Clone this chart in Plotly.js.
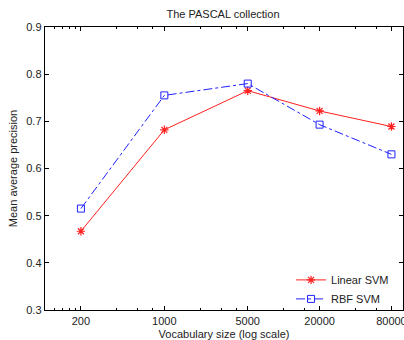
<!DOCTYPE html>
<html>
<head>
<meta charset="utf-8">
<script src="https://cdn.plot.ly/plotly-3.0.1.min.js"></script>
<style>html,body{margin:0;padding:0;background:#fff;}#chart{width:404px;height:340px;}</style>
</head>
<body>
<div id="chart"></div>
<script>
var vocabSizes = [200, 1000, 5000, 20000, 80000];
var linearSVM = [0.467, 0.682, 0.765, 0.722, 0.689];
var rbfSVM = [0.515, 0.755, 0.780, 0.693, 0.630];
var xTickVals = [200, 1000, 5000, 20000, 80000];
var xTickText = ['200', '1000', '5000', '20000', '80000'];
var xMinorVals = [120, 140, 160, 180, 400, 600, 800, 2000, 3000, 4000, 10000, 15000, 40000, 60000];

var font = {family: 'Liberation Sans, Arial, sans-serif', size: 11, color: '#222'};

var traces = [
  {x: vocabSizes, y: linearSVM, name: 'Linear SVM', type: 'scatter', mode: 'lines+markers',
   line: {color: '#ff2020', width: 1},
   marker: {symbol: 'asterisk-open', size: 7, color: '#ff2020', line: {color: '#ff2020', width: 1.2}}},
  {x: vocabSizes, y: rbfSVM, name: 'RBF SVM', type: 'scatter', mode: 'lines+markers',
   line: {color: '#2020ff', width: 1, dash: 'dashdot'},
   marker: {symbol: 'square-open', size: 7, color: '#2020ff', line: {color: '#2020ff', width: 1}}}
];

var layout = {
  width: 404, height: 340,
  margin: {l: 45, r: 1, t: 27, b: 30, pad: 0},
  paper_bgcolor: '#fff', plot_bgcolor: '#fff',
  font: font,
  showlegend: true,
  title: {text: 'The PASCAL collection', font: {family: font.family, size: 11, color: '#222'},
          x: 0.552, xanchor: 'center', y: 0.958, yanchor: 'middle'},
  xaxis: {
    type: 'log', range: [2, 5], tickmode: 'array', tickvals: xTickVals, ticktext: xTickText,
    ticks: 'inside', ticklen: 4, tickcolor: '#000', tickwidth: 1, ticklabeloverflow: 'allow',
    showline: true, linecolor: '#000', linewidth: 1.3, mirror: 'allticks',
    showgrid: false, zeroline: false,
    minor: {tickmode: 'array', tickvals: xMinorVals, ticks: 'inside', ticklen: 2, tickcolor: '#000', showgrid: false},
    title: {text: 'Vocabulary size (log scale)', font: font, standoff: 4}
  },
  yaxis: {
    range: [0.3, 0.9], dtick: 0.1, tick0: 0.3, tickformat: '.1f',
    ticks: 'inside', ticklen: 4, tickcolor: '#000', tickwidth: 1,
    showline: true, linecolor: '#000', linewidth: 1.3, mirror: 'allticks',
    showgrid: false, zeroline: false,
    title: {text: 'Mean average precision', font: font, standoff: 6}
  },
  legend: {x: 0.975, xanchor: 'right', y: -0.012, yanchor: 'bottom', bgcolor: 'rgba(255,255,255,0)',
           borderwidth: 0, font: font, tracegroupgap: 0, itemwidth: 30}
};

Plotly.newPlot('chart', traces, layout, {displayModeBar: false, staticPlot: true});
</script>
</body>
</html>
